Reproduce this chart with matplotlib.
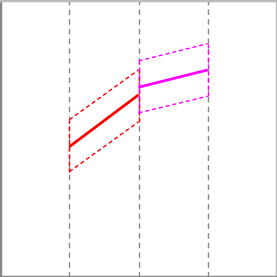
import matplotlib
matplotlib.use("Agg")
import matplotlib.pyplot as plt

# segment end points (x) and values
bins = [1, 2, 3]
red_x = [1, 2]
red_mid = [1.88, 2.63]
red_hi = [2.27, 2.99]
red_lo = [1.52, 2.24]
mag_x = [2, 3]
mag_mid = [2.74, 2.99]
mag_hi = [3.12, 3.37]
mag_lo = [2.37, 2.61]


def draw_band(ax, xs, mid, hi, lo, color):
    """ Draws a solid middle line with a dashed box around it. """
    ax.plot(xs, mid, color=color, lw=2, solid_capstyle="butt", zorder=3)
    ax.plot(xs, hi, color=color, lw=1, ls=(0, (3, 2)), zorder=3)
    ax.plot(xs, lo, color=color, lw=1, ls=(0, (3, 2)), zorder=3)
    for i in range(2):
        ax.plot([xs[i], xs[i]], [lo[i], hi[i]], color=color, lw=1,
                ls=(0, (3, 2)), zorder=3)


fig = plt.figure(figsize=[2.77, 2.77], dpi=100, facecolor="white")
ax = fig.add_axes([0, 0, 1, 1])
ax.set_xlim(0, 4)
ax.set_ylim(0, 4)

for b in bins:
    ax.axvline(b, color="#888888", lw=1, ls=(0, (4, 3)), zorder=1)

draw_band(ax, red_x, red_mid, red_hi, red_lo, "#ff0000")
draw_band(ax, mag_x, mag_mid, mag_hi, mag_lo, "#ff00ff")

ax.set_xticks([])
ax.set_yticks([])
for side in ["left", "bottom"]:
    ax.spines[side].set_color("#888888")
    ax.spines[side].set_linewidth(2.5)
for side in ["top", "right"]:
    ax.spines[side].set_color("#bbbbbb")
    ax.spines[side].set_linewidth(2.5)

plt.savefig("out.png", dpi=100)
plt.close()
